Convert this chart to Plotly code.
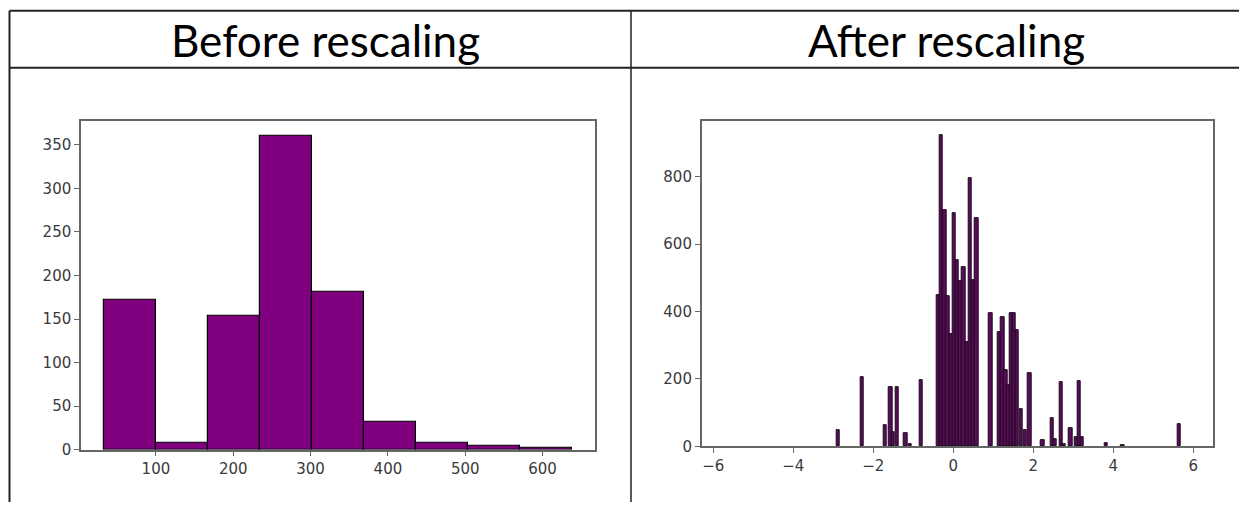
import plotly.graph_objects as go
import numpy as np

# ---------------- data ----------------
titles = ["Before rescaling", "After rescaling"]

# Left histogram (before rescaling): 9 bins
before_edges = [33.3, 100.4, 167.6, 234.7, 301.9, 369.0, 436.2, 503.3, 570.4, 637.6]
before_counts = [172, 8, 154, 360, 181, 32, 8, 4, 2]
before_xticks = [100, 200, 300, 400, 500, 600]
before_yticks = [0, 50, 100, 150, 200, 250, 300, 350]

# Right histogram (after rescaling): non-empty bins (centre, count)
after_centers = [-2.88, -2.28, -1.71, -1.57, -1.50, -1.41, -1.19, -1.08, -0.81,
                 -0.38, -0.30, -0.22, -0.14, -0.06, 0.02, 0.10, 0.18, 0.26, 0.34, 0.42, 0.50, 0.58,
                 0.93, 1.15, 1.23, 1.31, 1.38, 1.45, 1.52, 1.60, 1.70, 1.79, 1.91,
                 2.23, 2.47, 2.54, 2.69, 2.76, 2.93, 3.08, 3.15, 3.22, 3.82, 4.23, 5.65]
after_counts = [47, 204, 63, 175, 42, 175, 39, 5, 197,
                450, 924, 700, 445, 333, 693, 552, 489, 532, 310, 795, 494, 678,
                394, 338, 384, 226, 183, 394, 394, 345, 110, 47, 217,
                17, 85, 22, 189, 5, 53, 27, 192, 27, 10, 3, 66]
after_bin_width = 0.085
after_xticks = [-6, -4, -2, 0, 2, 4, 6]
after_yticks = [0, 200, 400, 600, 800]

# ---------------- figure ----------------
W, H = 1239, 511
def px_x(p): return p / W
def px_y(p): return (H - p) / H

edges = np.array(before_edges)
b_centers = (edges[:-1] + edges[1:]) / 2
b_widths = np.diff(edges)

fig = go.Figure()
fig.add_trace(go.Bar(x=b_centers, y=before_counts, width=b_widths,
                     marker=dict(color="#800080", line=dict(color="black", width=1.2)),
                     xaxis="x", yaxis="y", showlegend=False))
fig.add_trace(go.Bar(x=after_centers, y=after_counts, width=after_bin_width,
                     marker=dict(color="#5a0c5a", line=dict(color="#1a0a1a", width=1)),
                     xaxis="x2", yaxis="y2", showlegend=False))

tickfont = dict(family="DejaVu Sans", size=15, color="#3a3a3a")
axis_common = dict(showline=True, linecolor="#666", linewidth=1.5, mirror=True,
                   ticks="outside", ticklen=5, tickcolor="#666", tickwidth=1.2,
                   showgrid=False, zeroline=False, tickfont=tickfont)

fig.update_layout(
    width=W, height=H,
    margin=dict(l=0, r=0, t=0, b=0),
    paper_bgcolor="white", plot_bgcolor="white",
    bargap=0,
    xaxis=dict(domain=[px_x(81), px_x(595)], range=[3.1, 667.8], anchor="y",
               tickvals=before_xticks, **axis_common),
    yaxis=dict(domain=[px_y(457.7), px_y(123)], range=[0, 377.6], anchor="x",
               tickvals=before_yticks, **axis_common),
    xaxis2=dict(domain=[px_x(701.7), px_x(1213.3)], range=[-6.29, 6.5], anchor="y2",
                tickvals=after_xticks, **axis_common),
    yaxis2=dict(domain=[px_y(454.3), px_y(123.3)], range=[0, 965], anchor="x2",
                tickvals=after_yticks, **axis_common),
)

# table frame
line_col = "#222"
shapes = [
    dict(type="line", xref="paper", yref="paper", x0=px_x(9.5), x1=1.0, y0=px_y(11), y1=px_y(11),
         line=dict(color=line_col, width=2)),
    dict(type="line", xref="paper", yref="paper", x0=px_x(9.5), x1=1.0, y0=px_y(69), y1=px_y(69),
         line=dict(color=line_col, width=2)),
    dict(type="line", xref="paper", yref="paper", x0=px_x(9.5), x1=px_x(9.5), y0=0, y1=px_y(11),
         line=dict(color=line_col, width=2)),
    dict(type="line", xref="paper", yref="paper", x0=px_x(631), x1=px_x(631), y0=0, y1=px_y(11),
         line=dict(color=line_col, width=1.5)),
]
fig.update_layout(shapes=shapes)

title_font = dict(family="Lato", size=44, color="black")
fig.add_annotation(text=titles[0], xref="paper", yref="paper", x=px_x(325), y=px_y(41),
                   xanchor="center", yanchor="middle", showarrow=False, font=title_font)
fig.add_annotation(text=titles[1], xref="paper", yref="paper", x=px_x(946), y=px_y(41),
                   xanchor="center", yanchor="middle", showarrow=False, font=title_font)

fig.write_html("out.html", config={"displayModeBar": False},
               post_script="document.body.style.margin='0';")
